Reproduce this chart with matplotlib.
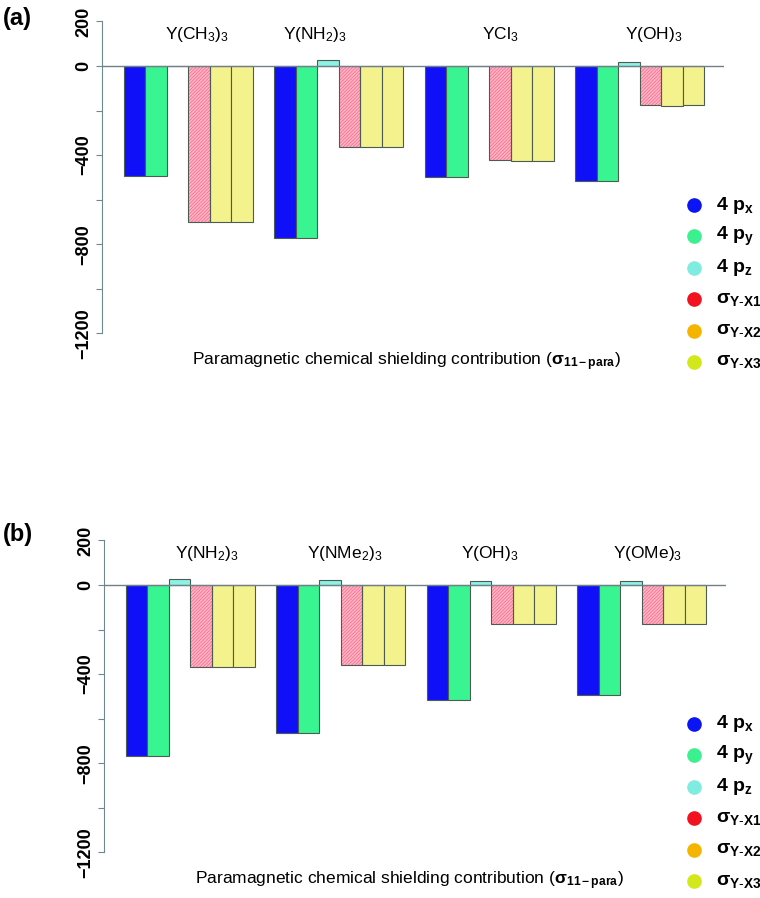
import numpy as np
import matplotlib
matplotlib.use('Agg')
import matplotlib.pyplot as plt
from matplotlib.lines import Line2D

plt.rcParams['font.family'] = ['Liberation Sans', 'DejaVu Sans']
plt.rcParams['mathtext.fontset'] = 'custom'
plt.rcParams['mathtext.rm'] = 'Liberation Sans'
plt.rcParams['mathtext.it'] = 'Liberation Sans:italic'
plt.rcParams['mathtext.bf'] = 'Liberation Sans:bold'
plt.rcParams['hatch.linewidth'] = 0.6

# panel (a)
groups_a = ['Y(CH$_3$)$_3$', 'Y(NH$_2$)$_3$', 'YCl$_3$', 'Y(OH)$_3$']
px_a = [-493, -770, -497, -515]
py_a = [-493, -770, -497, -515]
pz_a = [0, 25, 0, 18]
s1_a = [-700, -362, -422, -175]
s2_a = [-700, -362, -425, -178]
s3_a = [-700, -362, -425, -175]

# panel (b)
groups_b = ['Y(NH$_2$)$_3$', 'Y(NMe$_2$)$_3$', 'Y(OH)$_3$', 'Y(OMe)$_3$']
px_b = [-768, -663, -517, -492]
py_b = [-768, -663, -517, -492]
pz_b = [25, 24, 17, 17]
s1_b = [-368, -359, -174, -174]
s2_b = [-368, -359, -174, -174]
s3_b = [-368, -359, -174, -174]

legend_labels = [r'$\mathbf{4\ p_x}$', r'$\mathbf{4\ p_y}$', r'$\mathbf{4\ p_z}$',
                 r'$\mathbf{σ_{Y\text{-}X1}}$', r'$\mathbf{σ_{Y\text{-}X2}}$',
                 r'$\mathbf{σ_{Y\text{-}X3}}$']
legend_colors = ['#0a14f5', '#3cf08f', '#80ece0', '#f2121e', '#f4b400', '#d2e81a']
yticks = [200, 0, -200, -400, -600, -800, -1000, -1200]
ytick_labels = ['200', '0', '', '\u2212400', '', '\u2212800', '', '\u22121200']

bar_colors = ['#1010f8', '#38f592', '#8cf2e4', '#ffb8c8', '#f4f28c', '#f4f28c']
edge = '#4c5c52'
W, H = 760, 898

fig = plt.figure(figsize=(W / 100, H / 100), dpi=100)


def panel(left_px, zero_px, series, names, name_x):
    scale = 0.2228  # px per unit
    top = zero_px - 200 * scale
    bot = zero_px + 1200 * scale
    right_px = left_px + 622
    ax = fig.add_axes([left_px / W, 1 - bot / H, (right_px - left_px) / W, (bot - top) / H])
    ax.set_xlim(0, 28.93)
    ax.set_ylim(-1200, 200)
    ng = len(names)
    for k, vals in enumerate(series):
        x = np.arange(ng) * 7 + 1 + k
        if k == 3:
            ax.bar(x, vals, width=1, align='edge', color=bar_colors[k],
                   edgecolor='#ff6d8c', hatch='//////////', linewidth=0, zorder=2)
            ax.bar(x, vals, width=1, align='edge', fill=False,
                   edgecolor=edge, linewidth=0.8, zorder=3)
        else:
            ax.bar(x, vals, width=1, align='edge', color=bar_colors[k],
                   edgecolor=edge, linewidth=0.8, zorder=2)
    ax.axhline(0, color='#6f8088', lw=1.0, zorder=4)
    for nm, xx in zip(names, name_x):
        ax.text(xx, 140, nm, ha='center', va='center', fontsize=12.5)
    for s in ['top', 'right', 'bottom']:
        ax.spines[s].set_visible(False)
    ax.spines['left'].set_bounds(-1200, 200)
    ax.spines['left'].set_color('#6f8890')
    ax.set_xticks([])
    ax.set_yticks(yticks)
    ax.set_yticklabels(ytick_labels, rotation=90, va='center', fontweight='bold', fontsize=13)
    ax.tick_params(axis='y', length=4, color='#6f8890', pad=3)
    return ax


panel(102, 66, [px_a, py_a, pz_a, s1_a, s2_a, s3_a], groups_a, [4.4, 9.9, 18.5, 25.65])
panel(104, 585, [px_b, py_b, pz_b, s1_b, s2_b, s3_b], groups_b, [4.8, 11.2, 17.95, 25.3])

xlab = 'Paramagnetic chemical shielding contribution ($\\mathbf{σ_{11\u2212para}}$)'
for x0, y0, tag, ty in [(192, 362, '(a)', 18), (195, 881, '(b)', 535)]:
    fig.text(x0 / W, 1 - y0 / H, xlab, ha='left', va='center', fontsize=12.5)
    fig.text(3 / W, 1 - ty / H, tag, ha='left', va='center', fontsize=17, fontweight='bold')

for y_first in [205, 724]:
    for i, (c, lab) in enumerate(zip(legend_colors, legend_labels)):
        y = 1 - (y_first + 31.4 * i) / H
        fig.add_artist(Line2D([694 / W], [y], marker='o', color=c, markersize=9.5,
                              linestyle='none', transform=fig.transFigure))
        fig.text(716 / W, y, lab, ha='left', va='center', fontsize=14)

fig.savefig('out.png', dpi=100)
